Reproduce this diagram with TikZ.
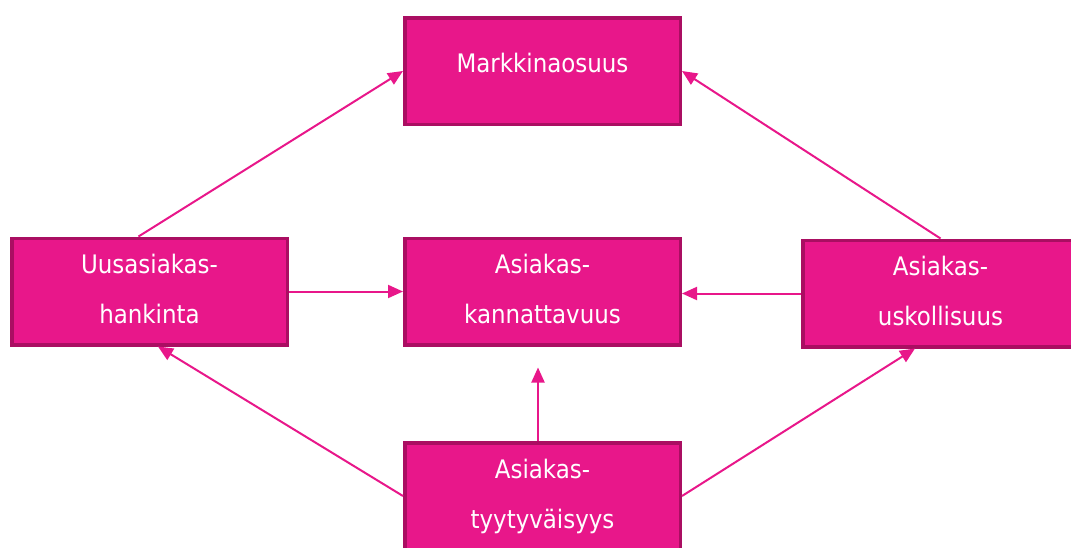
\documentclass[tikz,border=0pt]{standalone}
\usepackage{fontspec}
\newfontfamily\boxfont{DejaVu Sans Condensed}
\usetikzlibrary{arrows.meta}
\definecolor{boxfill}{RGB}{232,23,138}
\definecolor{boxborder}{RGB}{170,14,98}
\tikzset{
  box/.style={draw=boxborder, line width=3.5pt, fill=boxfill, minimum width=275.5pt, minimum height=106.5pt,
    text=white, align=center, font=\boxfont\fontsize{25.5pt}{50pt}\selectfont, inner sep=0pt},
  oneline/.style={box, text height=19.5pt, text depth=16.5pt},
  twoline/.style={box},
  arr/.style={draw=boxfill, line width=2pt, -{Triangle[length=15pt,width=13pt]}}
}
\begin{document}
\begin{tikzpicture}[x=1pt,y=-1pt]
\clip (0,0) rectangle (1071,547);
\useasboundingbox (0,0) rectangle (1071,547);
\node[oneline] (m) at (542.5,71) {Markkinaosuus};
\node[twoline] (u) at (149.5,291.5) {Uusasiakas-\\hankinta\vphantom{y}};
\node[twoline] (k) at (542.5,291.5) {Asiakas-\\kannattavuus\vphantom{y}};
\node[twoline] (s) at (940.5,293.5) {Asiakas-\\uskollisuus\vphantom{y}};
\node[twoline] (t) at (542.5,496) {Asiakas-\\tyytyväisyys};
\draw[arr] ([xshift=-11pt]u.north) -- (m.west);
\draw[arr] (u.east) -- (u.east -| k.west);
\draw[arr] (s.north) -- (m.east);
\draw[arr] (s.west) -- (s.west -| k.east);
\draw[arr] ([xshift=-4.5pt]t.north) -- ([xshift=-4.5pt,yshift=-21pt]k.south);
\draw[arr] (t.west) -- ([xshift=8.5pt]u.south);
\draw[arr] (t.east) -- ([xshift=-25.5pt]s.south);
\end{tikzpicture}
\end{document}
